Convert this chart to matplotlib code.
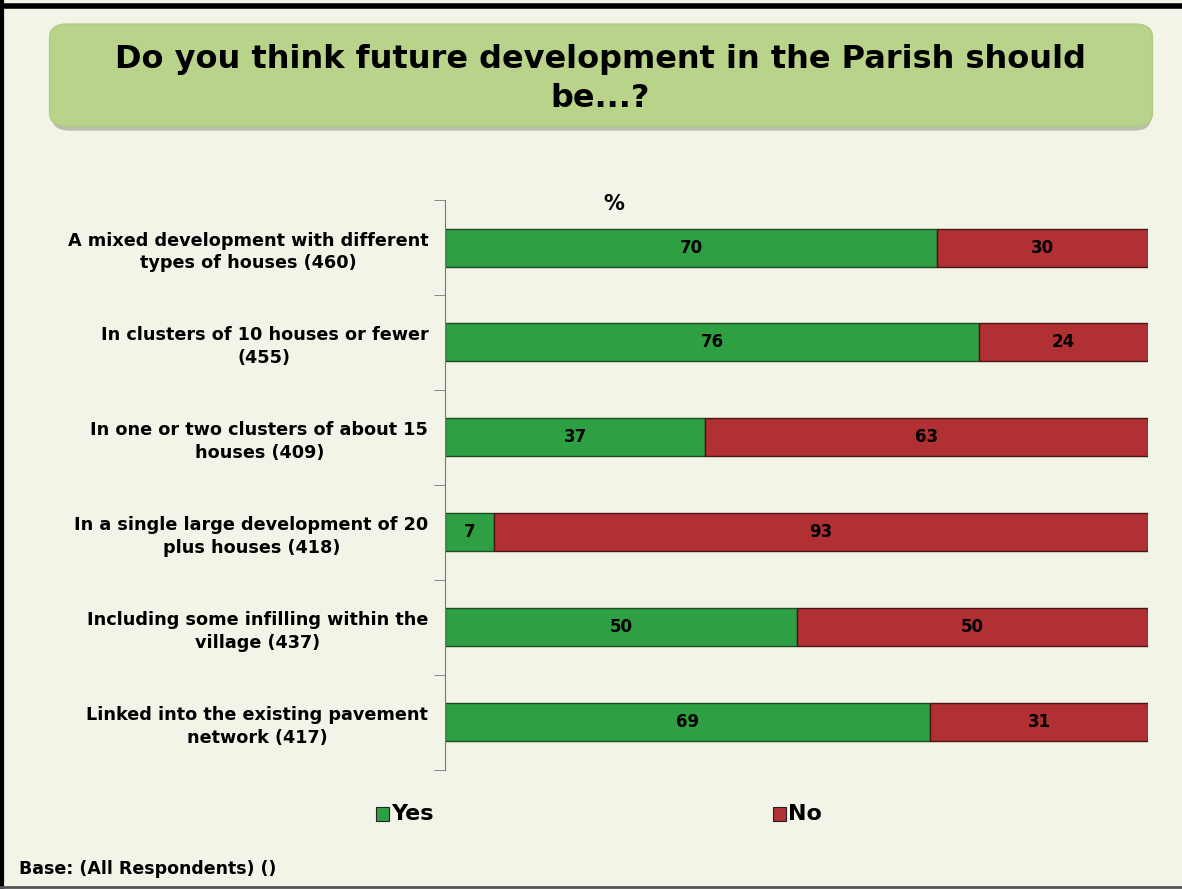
import numpy as np
import matplotlib.pyplot as plt
from matplotlib.patches import FancyBboxPatch
from matplotlib.lines import Line2D

categories = [
    "A mixed development with different\ntypes of houses (460)",
    "In clusters of 10 houses or fewer\n(455)",
    "In one or two clusters of about 15\nhouses (409)",
    "In a single large development of 20\nplus houses (418)",
    "Including some infilling within the\nvillage (437)",
    "Linked into the existing pavement\nnetwork (417)",
]
yes = [70, 76, 37, 7, 50, 69]
no = [30, 24, 63, 93, 50, 31]

bg = "#f2f4e8"
green = "#2ea043"
red = "#b03034"

fig = plt.figure(figsize=(11.82, 8.89), dpi=100, facecolor=bg)

# cadre : noir en haut et à gauche, gris en bas
fig.lines.append(Line2D([0, 1], [0.9935, 0.9935], transform=fig.transFigure, color="black", linewidth=4))
fig.lines.append(Line2D([0.002, 0.002], [0, 1], transform=fig.transFigure, color="black", linewidth=3))
fig.lines.append(Line2D([0, 1], [0.002, 0.002], transform=fig.transFigure, color="#555555", linewidth=2))

# bandeau du titre avec ombre
fig.patches.append(FancyBboxPatch((0.044, 0.853), 0.93, 0.116, transform=fig.transFigure,
                                  boxstyle="round,pad=0,rounding_size=0.015",
                                  facecolor="#9a9a8a", edgecolor="none", alpha=0.6))
fig.patches.append(FancyBboxPatch((0.042, 0.858), 0.933, 0.115, transform=fig.transFigure,
                                  boxstyle="round,pad=0,rounding_size=0.015",
                                  facecolor="#b9d48a", edgecolor="#b0cc80", linewidth=1))
fig.text(0.508, 0.911, "Do you think future development in the Parish should\nbe...?",
         ha="center", va="center", fontsize=23, fontweight="bold", linespacing=1.35)

ax = fig.add_axes([0.3765, 0.134, 0.5948, 0.641])
ax.set_facecolor(bg)
y = np.arange(len(categories))
ax.barh(y, yes, height=0.4, color=green, edgecolor="#1e4a22", linewidth=1)
ax.barh(y, no, left=yes, height=0.4, color=red, edgecolor="#4a1515", linewidth=1)

for i in range(len(categories)):
    ax.text(yes[i] / 2, y[i], str(yes[i]), ha="center", va="center",
            fontsize=12, fontweight="bold")
    ax.text(yes[i] + no[i] / 2, y[i], str(no[i]), ha="center", va="center",
            fontsize=12, fontweight="bold")

ax.set_xlim(0, 100)
ax.set_ylim(len(categories) - 0.5, -0.5)
ax.set_xticks([])
ax.set_yticks(y)
ax.set_yticklabels(categories, fontsize=12.7, fontweight="bold", ha="right",
                   multialignment="center", linespacing=1.3)
ax.tick_params(axis="y", length=0, pad=12)
ax.set_yticks(np.arange(-0.5, len(categories)), minor=True)
ax.tick_params(axis="y", which="minor", length=8, color="#777777")
for s in ["top", "right", "bottom"]:
    ax.spines[s].set_visible(False)
ax.spines["left"].set_color("#777777")

fig.text(0.519, 0.771, "%", ha="center", va="center", fontsize=15, fontweight="bold")

# légende
fig.patches.append(plt.Rectangle((0.318, 0.076), 0.011, 0.016, transform=fig.transFigure,
                                 facecolor=green, edgecolor="#222222", linewidth=0.8))
fig.text(0.331, 0.084, "Yes", ha="left", va="center", fontsize=16, fontweight="bold")
fig.patches.append(plt.Rectangle((0.654, 0.076), 0.011, 0.016, transform=fig.transFigure,
                                 facecolor=red, edgecolor="#222222", linewidth=0.8))
fig.text(0.667, 0.084, "No", ha="left", va="center", fontsize=16, fontweight="bold")

fig.text(0.016, 0.023, "Base: (All Respondents) ()", ha="left", va="center",
         fontsize=12.5, fontweight="bold")

plt.savefig("out.png", facecolor=bg)
